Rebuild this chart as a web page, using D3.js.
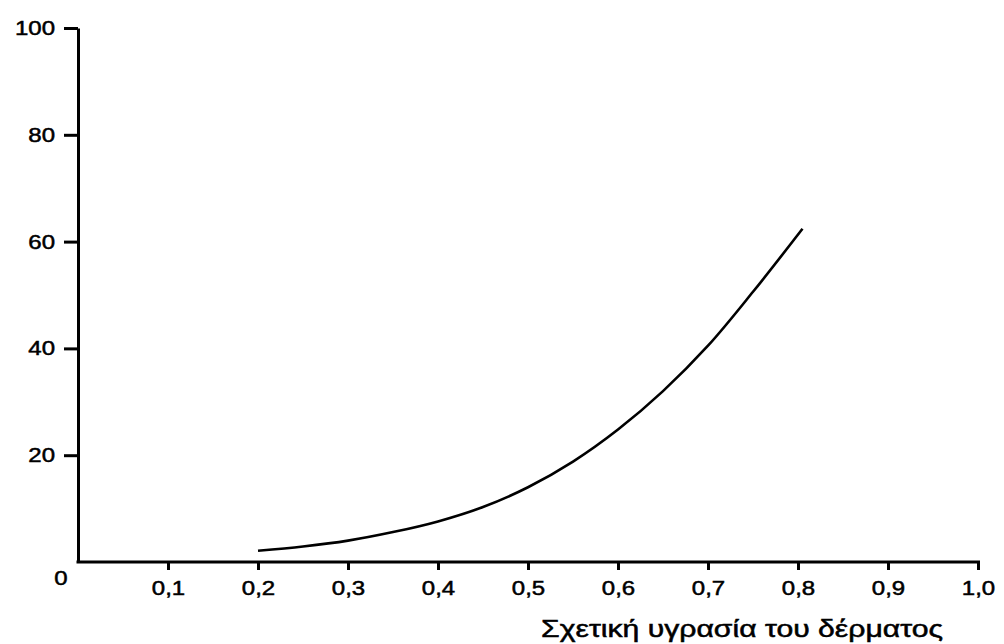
<!DOCTYPE html>
<html>
<head>
<meta charset="utf-8">
<script src="https://cdn.jsdelivr.net/npm/d3@7"></script>
<style>
  html, body { margin: 0; padding: 0; background: #fff; }
  svg text { font-family: "Liberation Sans", Arial, sans-serif; fill: #000; stroke: #000; stroke-width: 0.5px; }
</style>
</head>
<body>
<div id="chart"></div>
<script>
// data
var humidity = [0.2, 0.25, 0.3, 0.35, 0.4, 0.45, 0.5, 0.55, 0.6, 0.65, 0.7, 0.75, 0.805];
var values = [2.1, 2.9, 4.0, 5.6, 7.6, 10.3, 14.0, 18.8, 24.8, 32.0, 40.5, 50.6, 62.4];
var xTicks = [0.1, 0.2, 0.3, 0.4, 0.5, 0.6, 0.7, 0.8, 0.9, 1.0];
var yTicks = [20, 40, 60, 80, 100];
var xTitle = "Σχετική υγρασία του δέρματος";

var width = 1004, height = 644;
var margin = {top: 28, right: 26, bottom: 82, left: 78};

var svg = d3.select("#chart").append("svg")
    .attr("width", width)
    .attr("height", height);

var x = d3.scaleLinear()
    .domain([0, 1])
    .range([margin.left, margin.left + 900]);

var y = d3.scaleLinear()
    .domain([0, 100])
    .range([height - margin.bottom, margin.top]);

// stretch text horizontally like the scanned original
function stretch(sel, k) {
    sel.each(function() {
        var w = this.getComputedTextLength();
        d3.select(this)
            .attr("textLength", w * k)
            .attr("lengthAdjust", "spacingAndGlyphs");
    });
}

var fmt = function(d) { return d3.format(".1f")(d).replace(".", ","); };

var xAxis = svg.append("g")
    .attr("transform", "translate(0," + y(0) + ")")
    .call(d3.axisBottom(x).tickValues(xTicks).tickSize(8).tickPadding(11)
        .tickSizeOuter(0).tickFormat(fmt));

var yAxis = svg.append("g")
    .attr("transform", "translate(" + x(0) + ",0)")
    .call(d3.axisLeft(y).tickValues(yTicks).tickSize(14).tickPadding(9)
        .tickSizeOuter(0));

[xAxis, yAxis].forEach(function(g) {
    g.selectAll("path, line").attr("stroke", "#000").attr("stroke-width", 3);
    g.selectAll("text").attr("font-size", 20).attr("font-family", null);
    stretch(g.selectAll("text"), 1.2);
});
xAxis.select(".domain").attr("d", "M" + (x(0) - 1.5) + ",0H" + (x(1) + 2));

// origin label
svg.append("text")
    .attr("x", x(0) - 17)
    .attr("y", y(0) + 16)
    .attr("text-anchor", "middle")
    .attr("dy", "0.35em")
    .attr("font-size", 20)
    .text("0")
    .call(stretch, 1.2);

// axis title
svg.append("text")
    .attr("x", 742)
    .attr("y", 637)
    .attr("text-anchor", "middle")
    .attr("font-size", 23)
    .text(xTitle)
    .call(function(t) {
        t.attr("textLength", 402).attr("lengthAdjust", "spacingAndGlyphs");
    });

// curve
var line = d3.line()
    .x(function(d, i) { return x(humidity[i]); })
    .y(function(d) { return y(d); })
    .curve(d3.curveCatmullRom);

svg.append("path")
    .datum(values)
    .attr("fill", "none")
    .attr("stroke", "#000")
    .attr("stroke-width", 2.6)
    .attr("d", line);
</script>
</body>
</html>
